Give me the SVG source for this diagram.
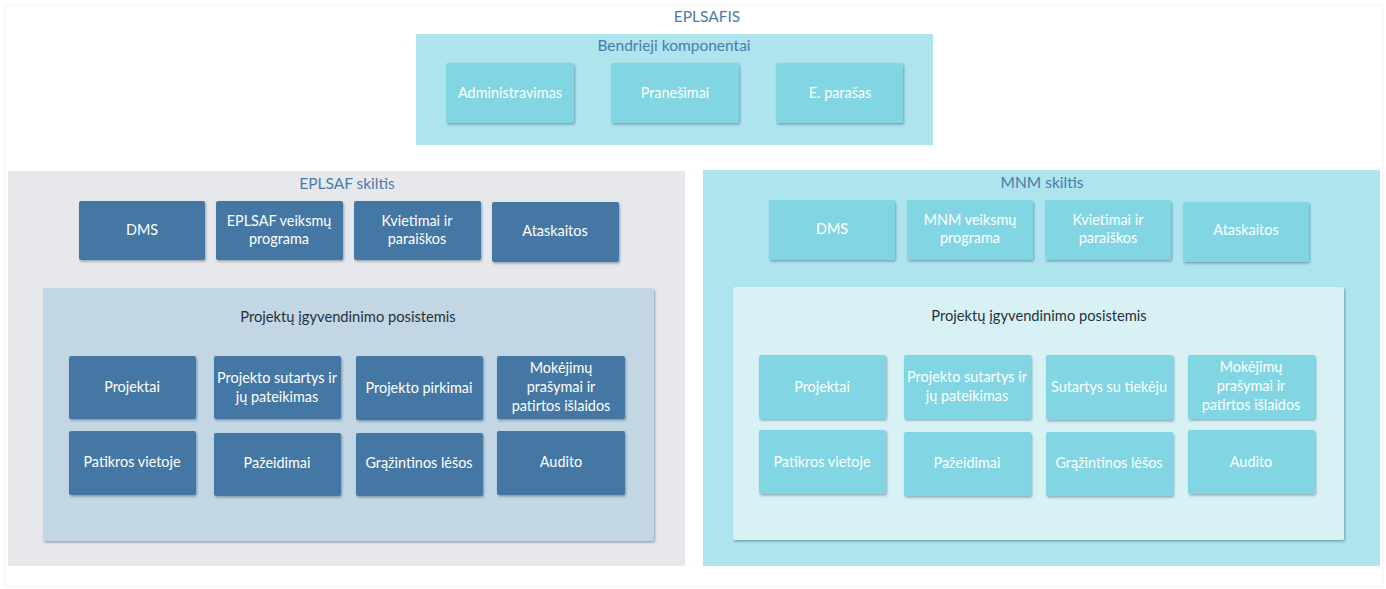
<svg xmlns="http://www.w3.org/2000/svg" width="1386" height="589" viewBox="0 0 1386 589">
  <defs>
    <filter id="shadow" x="-10%" y="-10%" width="125%" height="130%">
      <feDropShadow dx="1" dy="1.5" stdDeviation="1" flood-color="#1e3a50" flood-opacity="0.4"/>
    </filter>
    <style>
      text { font-family: Lato, "Liberation Sans", sans-serif; text-anchor: middle; }
      .frame { fill: #ffffff; stroke: #f6f6f6; stroke-width: 1.5; }
      .hdr { fill: #4a7cab; font-size: 15.5px; }
      .sub { fill: #26313d; font-size: 14.7px; }
      .lbl { fill: #ffffff; font-size: 14.4px; }
      .common { fill: #ade4ed; }
      .eplsaf { fill: #e6e8ec; }
      .mnm { fill: #ade4ed; }
      .dark { fill: #4577a5; filter: url(#shadow); }
      .light { fill: #82d6e4; filter: url(#shadow); }
      .panelA { fill: #c3d6e4; filter: url(#shadow); }
      .panelB { fill: #d8f1f5; filter: url(#shadow); }
    </style>
  </defs>

  <!-- outer frame and title -->
  <rect class="frame" x="5" y="5" width="1378" height="582"/>
  <text class="hdr" x="707" y="22">EPLSAFIS</text>

  <!-- shared components -->
  <g id="bendrieji">
    <rect class="common" x="416" y="34" width="517" height="111"/>
    <text class="hdr" x="674" y="51">Bendrieji komponentai</text>
  </g>
  <g id="administravimas"><rect class="light" x="446" y="63" width="128" height="60" rx="2"/><text class="lbl" x="510" y="98">Administravimas</text></g>
  <g id="pranesimai"><rect class="light" x="611" y="63" width="128" height="60" rx="2"/><text class="lbl" x="675" y="98">Pranešimai</text></g>
  <g id="eparasas"><rect class="light" x="776" y="63" width="127" height="60" rx="2"/><text class="lbl" x="840" y="98">E. parašas</text></g>

  <!-- EPLSAF section -->
  <g id="eplsaf-skiltis">
    <rect class="eplsaf" x="8" y="171" width="677" height="395"/>
    <text class="hdr" x="347" y="189">EPLSAF skiltis</text>
  </g>
  <g id="e-dms"><rect class="dark" x="79" y="201" width="126" height="59" rx="2"/><text class="lbl" x="142" y="235">DMS</text></g>
  <g id="e-veiksmu"><rect class="dark" x="216" y="201" width="127" height="59" rx="2"/><text class="lbl" x="279" y="226">EPLSAF veiksmų<tspan x="279" dy="18">programa</tspan></text></g>
  <g id="e-kvietimai"><rect class="dark" x="354" y="201" width="127" height="59" rx="2"/><text class="lbl" x="417" y="226">Kvietimai ir<tspan x="417" dy="18">paraiškos</tspan></text></g>
  <g id="e-ataskaitos"><rect class="dark" x="492" y="202" width="127" height="60" rx="2"/><text class="lbl" x="555" y="236">Ataskaitos</text></g>

  <g id="e-posistemis">
    <rect class="panelA" x="43" y="288" width="611" height="253" rx="2"/>
    <text class="sub" x="348" y="322">Projektų įgyvendinimo posistemis</text>
  </g>
  <g id="e-projektai"><rect class="dark" x="69" y="356" width="127" height="63" rx="2"/><text class="lbl" x="132" y="392">Projektai</text></g>
  <g id="e-sutartys"><rect class="dark" x="214" y="356" width="127" height="63" rx="2"/><text class="lbl" x="277" y="383">Projekto sutartys ir<tspan x="277" dy="19">jų pateikimas</tspan></text></g>
  <g id="e-pirkimai"><rect class="dark" x="356" y="356" width="127" height="64" rx="2"/><text class="lbl" x="419" y="393">Projekto pirkimai</text></g>
  <g id="e-mokejimai"><rect class="dark" x="497" y="356" width="128" height="63" rx="2"/><text class="lbl" x="561" y="373">Mokėjimų<tspan x="561" dy="19">prašymai ir</tspan><tspan x="561" dy="19">patirtos išlaidos</tspan></text></g>
  <g id="e-patikros"><rect class="dark" x="69" y="431" width="127" height="64" rx="2"/><text class="lbl" x="132" y="467">Patikros vietoje</text></g>
  <g id="e-pazeidimai"><rect class="dark" x="214" y="433" width="127" height="63" rx="2"/><text class="lbl" x="277" y="468">Pažeidimai</text></g>
  <g id="e-grazintinos"><rect class="dark" x="356" y="433" width="127" height="63" rx="2"/><text class="lbl" x="419" y="468">Grąžintinos lėšos</text></g>
  <g id="e-audito"><rect class="dark" x="497" y="431" width="128" height="64" rx="2"/><text class="lbl" x="561" y="467">Audito</text></g>

  <!-- MNM section -->
  <g id="mnm-skiltis">
    <rect class="mnm" x="703" y="170" width="677" height="396"/>
    <text class="hdr" x="1042" y="188">MNM skiltis</text>
  </g>
  <g id="m-dms"><rect class="light" x="769" y="200" width="126" height="60" rx="2"/><text class="lbl" x="832" y="234">DMS</text></g>
  <g id="m-veiksmu"><rect class="light" x="907" y="200" width="126" height="60" rx="2"/><text class="lbl" x="970" y="225">MNM veiksmų<tspan x="970" dy="18">programa</tspan></text></g>
  <g id="m-kvietimai"><rect class="light" x="1045" y="200" width="126" height="60" rx="2"/><text class="lbl" x="1108" y="225">Kvietimai ir<tspan x="1108" dy="18">paraiškos</tspan></text></g>
  <g id="m-ataskaitos"><rect class="light" x="1183" y="202" width="126" height="60" rx="2"/><text class="lbl" x="1246" y="235">Ataskaitos</text></g>

  <g id="m-posistemis">
    <rect class="panelB" x="733" y="287" width="611" height="253" rx="2"/>
    <text class="sub" x="1039" y="321">Projektų įgyvendinimo posistemis</text>
  </g>
  <g id="m-projektai"><rect class="light" x="759" y="355" width="127" height="64" rx="2"/><text class="lbl" x="822" y="392">Projektai</text></g>
  <g id="m-sutartys"><rect class="light" x="904" y="355" width="127" height="64" rx="2"/><text class="lbl" x="967" y="382">Projekto sutartys ir<tspan x="967" dy="19">jų pateikimas</tspan></text></g>
  <g id="m-tiekeju"><rect class="light" x="1046" y="355" width="127" height="65" rx="2"/><text class="lbl" x="1109" y="392">Sutartys su tiekėju</text></g>
  <g id="m-mokejimai"><rect class="light" x="1188" y="355" width="127" height="64" rx="2"/><text class="lbl" x="1251" y="372">Mokėjimų<tspan x="1251" dy="19">prašymai ir</tspan><tspan x="1251" dy="19">patirtos išlaidos</tspan></text></g>
  <g id="m-patikros"><rect class="light" x="759" y="430" width="127" height="64" rx="2"/><text class="lbl" x="822" y="467">Patikros vietoje</text></g>
  <g id="m-pazeidimai"><rect class="light" x="904" y="432" width="127" height="64" rx="2"/><text class="lbl" x="967" y="468">Pažeidimai</text></g>
  <g id="m-grazintinos"><rect class="light" x="1046" y="432" width="127" height="64" rx="2"/><text class="lbl" x="1109" y="468">Grąžintinos lėšos</text></g>
  <g id="m-audito"><rect class="light" x="1188" y="430" width="127" height="64" rx="2"/><text class="lbl" x="1251" y="467">Audito</text></g>

  <!-- no connectors in this layout -->
  <g id="connectors"/>
</svg>
